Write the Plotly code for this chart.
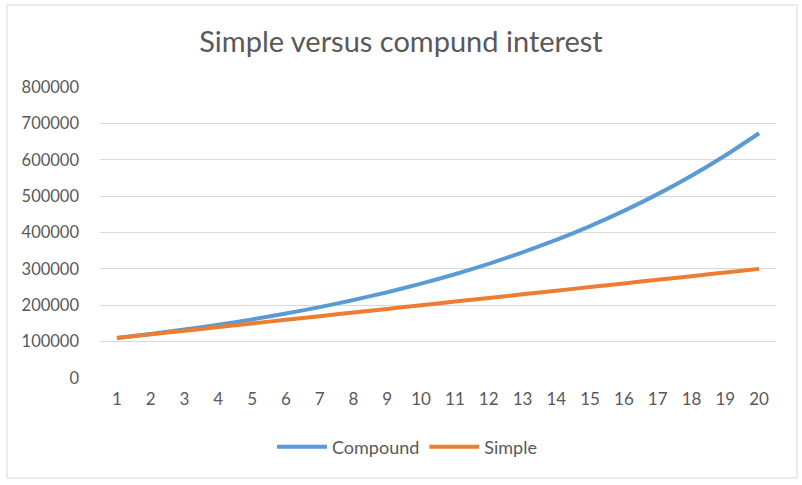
import plotly.graph_objects as go

years = list(range(1, 21))
compound = [110000, 121000, 133100, 146410, 161051, 177156, 194872, 214359, 235795, 259374,
            285312, 313843, 345227, 379750, 417725, 459497, 505447, 555992, 611591, 672750]
simple = [110000, 120000, 130000, 140000, 150000, 160000, 170000, 180000, 190000, 200000,
          210000, 220000, 230000, 240000, 250000, 260000, 270000, 280000, 290000, 300000]
y_ticks = [0, 100000, 200000, 300000, 400000, 500000, 600000, 700000, 800000]

W, H = 802, 485
L, R, T, B = 100, 26, 87, 107
pw, ph = W - L - R, H - T - B

def px(x):
    return (x - L) / pw

def py(y):
    return (H - B - y) / ph

fig = go.Figure()
fig.add_trace(go.Scatter(x=years, y=compound, mode="lines", name="Compound",
                         line=dict(color="#5B9BD5", width=4, shape="spline", smoothing=0.5)))
fig.add_trace(go.Scatter(x=years, y=simple, mode="lines", name="Simple",
                         line=dict(color="#ED7D31", width=4, shape="spline", smoothing=0.5)))

fig.update_layout(
    width=W, height=H,
    margin=dict(l=L, r=R, t=T, b=B),
    paper_bgcolor="white", plot_bgcolor="white",
    font=dict(family="Lato, Open Sans, sans-serif", color="#595959", size=16),
    title=dict(text="Simple versus compund interest", x=0.5, xanchor="center",
               y=1 - 42 / H, yanchor="middle",
               font=dict(size=29, color="#595959")),
    xaxis=dict(range=[0.5, 20.5], tickmode="array", tickvals=years,
               ticktext=[str(v) for v in years], showgrid=False, zeroline=False,
               showline=False, ticks="", ticklabelstandoff=9,
               tickfont=dict(size=17, color="#595959")),
    yaxis=dict(range=[0, 800000], tickmode="array", tickvals=y_ticks,
               ticktext=[str(v) for v in y_ticks], showgrid=True, gridcolor="#d9d9d9",
               gridwidth=1, zeroline=False, showline=False, ticks="",
               ticklabelstandoff=20, tickfont=dict(size=16.5, color="#595959")),
    legend=dict(orientation="h", x=px(407), xanchor="center", y=py(447), yanchor="middle",
                font=dict(size=18, color="#595959"), tracegroupgap=0, itemwidth=50),
    showlegend=True,
    shapes=[dict(type="rect", xref="paper", yref="paper",
                 x0=px(7), x1=px(797), y0=py(478), y1=py(5),
                 line=dict(color="#d9d9d9", width=1), fillcolor="rgba(0,0,0,0)", layer="below")],
)

fig.write_html("out.html", config={"displayModeBar": False},
               post_script="document.body.style.margin='0';document.body.style.overflow='hidden';")
